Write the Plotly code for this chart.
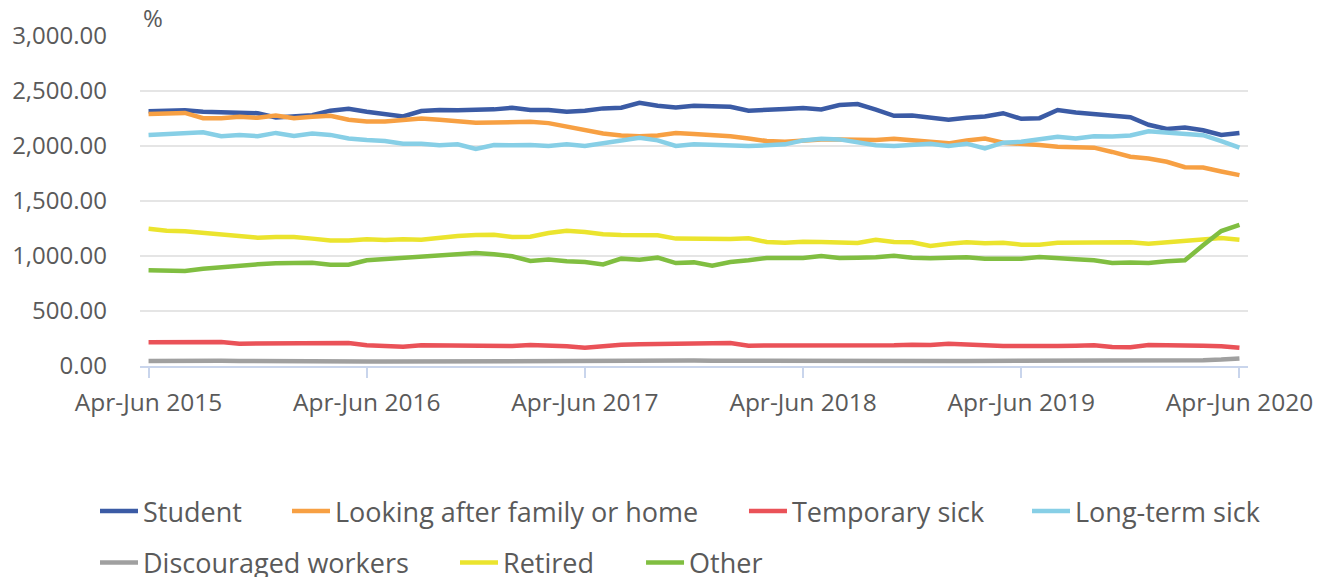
import plotly.graph_objects as go

MONTHS = ["Jan", "Feb", "Mar", "Apr", "May", "Jun", "Jul", "Aug", "Sep", "Oct", "Nov", "Dec"]

# 61 rolling quarters, Apr-Jun 2015 .. Apr-Jun 2020
periods = []
for k in range(61):
    s = 3 + k
    e = s + 2
    periods.append(f"{MONTHS[s % 12]}-{MONTHS[e % 12]} {2015 + e // 12}")

tick_labels = ["Apr-Jun 2015", "Apr-Jun 2016", "Apr-Jun 2017", "Apr-Jun 2018", "Apr-Jun 2019", "Apr-Jun 2020"]

student = [2315, 2320, 2325, 2312, 2306, 2303, 2298, 2259, 2268, 2280,
           2321, 2339, 2312, 2292, 2268, 2318, 2327, 2324, 2327, 2333,
           2348, 2327, 2327, 2312, 2321, 2342, 2348, 2393, 2366, 2351,
           2366, 2363, 2357, 2321, 2333, 2336, 2345, 2333, 2372, 2381,
           2330, 2274, 2277, 2262, 2238, 2256, 2268, 2298, 2247, 2253,
           2327, 2304, 2289, 2274, 2262, 2193, 2155, 2167, 2143, 2101, 2119]

family_home = [2292, 2295, 2301, 2253, 2253, 2265, 2256, 2277, 2253, 2265,
               2274, 2238, 2223, 2223, 2232, 2250, 2238, 2223, 2211, 2214,
               2220, 2220, 2208, 2179, 2149, 2113, 2095, 2089, 2095, 2119,
               2110, 2104, 2089, 2068, 2045, 2039, 2051, 2060, 2060, 2054,
               2054, 2065, 2051, 2036, 2024, 2051, 2068, 2030, 2024, 2009,
               1994, 1988, 1985, 1946, 1902, 1887, 1857, 1807, 1804, 1768, 1735]

temporary_sick = [215, 215, 215, 218, 218, 203, 203, 206, 206, 206,
                  206, 209, 188, 182, 176, 188, 185, 182, 179, 176,
                  182, 191, 188, 179, 167, 182, 194, 197, 200, 203,
                  209, 212, 209, 185, 185, 188, 188, 185, 188, 188,
                  179, 188, 194, 191, 203, 191, 188, 182, 179, 182,
                  182, 185, 188, 173, 170, 191, 191, 191, 185, 179, 165]

long_term_sick = [2101, 2110, 2116, 2125, 2089, 2101, 2089, 2119, 2092, 2113,
                  2101, 2068, 2054, 2045, 2021, 2021, 2006, 2015, 1973, 2009,
                  2006, 2009, 2000, 2015, 2000, 2024, 2042, 2074, 2051, 2000,
                  2015, 2009, 2006, 2000, 2006, 2015, 2051, 2065, 2060, 2036,
                  2006, 2000, 2009, 2021, 2000, 2021, 1979, 2030, 2039, 2060,
                  2083, 2068, 2089, 2086, 2095, 2134, 2125, 2113, 2098, 2045, 1985]

discouraged = [45, 47, 52, 50, 48, 46, 44, 44, 43, 42,
               41, 40, 42, 41, 42, 42, 41, 43, 44, 45,
               47, 48, 47, 46, 42, 43, 46, 48, 50, 50,
               49, 48, 47, 46, 47, 45, 43, 42, 41, 42,
               44, 45, 45, 44, 45, 46, 46, 45, 43, 45,
               47, 50, 52, 50, 48, 47, 48, 50, 52, 58, 68]

retired = [1248, 1230, 1224, 1209, 1188, 1173, 1167, 1173, 1173, 1158,
           1142, 1142, 1152, 1145, 1152, 1148, 1170, 1182, 1191, 1194,
           1173, 1176, 1209, 1230, 1218, 1197, 1191, 1188, 1188, 1158,
           1155, 1155, 1155, 1161, 1127, 1121, 1130, 1127, 1118, 1118,
           1148, 1127, 1124, 1091, 1112, 1124, 1115, 1121, 1103, 1103,
           1121, 1121, 1118, 1115, 1124, 1112, 1124, 1136, 1158, 1164, 1148]

other = [870, 870, 864, 885, 900, 915, 924, 933, 936, 939,
         921, 921, 961, 973, 982, 991, 1012, 1018, 1027, 1015,
         997, 955, 967, 952, 945, 924, 976, 967, 985, 936,
         942, 912, 945, 961, 982, 982, 982, 1000, 982, 985,
         988, 1003, 985, 979, 982, 988, 976, 976, 976, 991,
         976, 970, 961, 936, 942, 936, 952, 961, 1097, 1227, 1282]

series = [
    ("Student", student, "#3b5ba5"),
    ("Looking after family or home", family_home, "#f7a043"),
    ("Temporary sick", temporary_sick, "#ea5258"),
    ("Long-term sick", long_term_sick, "#87cfe6"),
    ("Discouraged workers", discouraged, "#a0a0a0"),
    ("Retired", retired, "#ebe42e"),
    ("Other", other, "#80be41"),
]

FONT = "Open Sans"
TXT = "#5a5a5a"

# legend placement (container coords) per series
legend_pos = [(0.0717, 0.1135), (0.2166, 0.1135), (0.5615, 0.1135), (0.7751, 0.1135),
              (0.0717, 0.0243), (0.3434, 0.0243), (0.4838, 0.0243)]

fig = go.Figure()
for idx, (name, vals, col) in enumerate(series):
    lg = "legend" if idx == 0 else f"legend{idx + 1}"
    fig.add_trace(go.Scatter(x=periods, y=vals, name=name, mode="lines",
                             line=dict(color=col, width=4.5), legend=lg))

layout_legends = {}
for idx, (lx, ly) in enumerate(legend_pos):
    key = "legend" if idx == 0 else f"legend{idx + 1}"
    layout_legends[key] = dict(x=lx, y=ly, xref="container", yref="container",
                               xanchor="left", yanchor="middle",
                               orientation="h", bgcolor="rgba(0,0,0,0)",
                               itemwidth=38,
                               font=dict(family=FONT, size=27, color=TXT))

fig.update_layout(
    width=1325, height=577,
    margin=dict(l=140, r=70, t=36, b=211),
    paper_bgcolor="white", plot_bgcolor="white",
    font=dict(family=FONT, size=24, color=TXT),
    showlegend=True,
    **layout_legends,
)

fig.update_xaxes(
    type="category",
    range=[-0.47, 60.47],
    tickmode="array", tickvals=tick_labels, ticktext=tick_labels,
    showgrid=False, zeroline=False,
    showline=True, linecolor="#c9d5ec", linewidth=2,
    ticks="outside", ticklen=10, tickwidth=2, tickcolor="#c9d5ec",
    ticklabelstandoff=4,
    tickfont=dict(family=FONT, size=24.5, color=TXT),
)

fig.update_yaxes(
    range=[0, 3000], tickmode="linear", tick0=0, dtick=500,
    tickformat=",.2f",
    showgrid=True, gridcolor="#e5e5e5", gridwidth=2,
    zeroline=False, showline=False,
    ticks="", ticklabelstandoff=32,
    tickfont=dict(family=FONT, size=24, color=TXT),
)

fig.add_annotation(text="%", xref="paper", yref="paper", x=0.0, y=1.0,
                   xanchor="left", yanchor="bottom", xshift=1, yshift=0,
                   showarrow=False, font=dict(family=FONT, size=24, color=TXT))

fig.write_html(
    "out.html",
    config={"displayModeBar": False},
    post_script="document.body.style.margin='0px';document.body.style.overflow='hidden';",
)
